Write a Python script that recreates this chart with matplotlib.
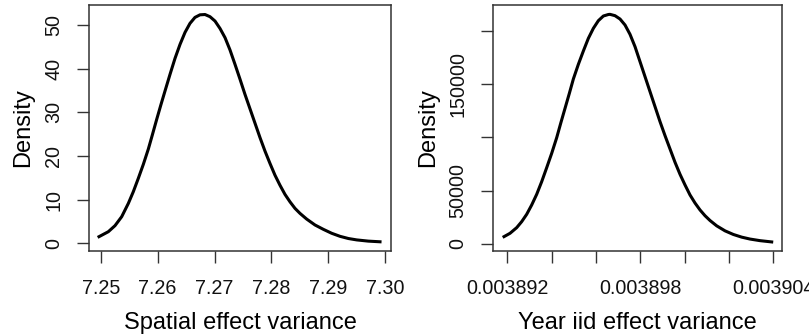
import matplotlib
matplotlib.use('Agg')
import matplotlib.pyplot as plt

plt.rcParams['font.family'] = ['Liberation Sans', 'DejaVu Sans']

# posterior marginal of the spatial effect variance
spatial_x = [7.24970, 7.25134, 7.25251, 7.25369, 7.25486, 7.25573, 7.25661,
             7.25749, 7.25837, 7.25907, 7.25984, 7.26060, 7.26130, 7.26218,
             7.26306, 7.26394, 7.26482, 7.26569, 7.26657, 7.26745, 7.26833,
             7.26921, 7.27009, 7.27097, 7.27185, 7.27272, 7.27360, 7.27448,
             7.27536, 7.27624, 7.27712, 7.27800, 7.27888, 7.27975, 7.28063,
             7.28151, 7.28239, 7.28327, 7.28415, 7.28503, 7.28620, 7.28766,
             7.28913, 7.29059, 7.29206, 7.29352, 7.29499, 7.29703, 7.29909]
spatial_y = [1.52, 2.66, 4.04, 6.10, 9.15, 11.82, 14.88,
             18.08, 21.59, 24.80, 28.39, 31.82, 34.88, 38.69,
             42.36, 45.56, 48.31, 50.37, 51.74, 52.33, 52.40,
             51.90, 50.90, 49.20, 47.10, 44.30, 41.00, 37.60,
             34.10, 30.80, 27.50, 24.20, 21.10, 18.30, 15.60,
             13.30, 11.20, 9.50, 8.00, 6.85, 5.55, 4.20,
             3.20, 2.30, 1.60, 1.10, 0.78, 0.50, 0.35]

# posterior marginal of the year iid effect variance
year_x = [0.0038918510, 0.0038921219, 0.0038924230, 0.0038926488, 0.0038928745,
          0.0038931003, 0.0038933260, 0.0038935517, 0.0038937775, 0.0038940032,
          0.0038942289, 0.0038944095, 0.0038946050, 0.0038948005, 0.0038949811,
          0.0038952068, 0.0038954326, 0.0038956583, 0.0038958841, 0.0038961098,
          0.0038963356, 0.0038965613, 0.0038966366, 0.0038968623, 0.0038970881,
          0.0038973138, 0.0038975396, 0.0038977653, 0.0038979911, 0.0038982168,
          0.0038984425, 0.0038986683, 0.0038988940, 0.0038991198, 0.0038993455,
          0.0038995713, 0.0038997970, 0.0039000227, 0.0039002485, 0.0039004742,
          0.0039007000, 0.0039009257, 0.0039011515, 0.0039014525, 0.0039018287,
          0.0039022049, 0.0039025811, 0.0039029574, 0.0039034088, 0.0039039356]
year_y = [6876, 10009, 15319, 20947, 27833,
          36585, 46594, 58471, 71604, 85055,
          99745, 113197, 127268, 141339, 154783,
          168544, 181049, 192933, 202314, 209500,
          213882, 215300, 215445, 214194, 211068,
          205440, 196685, 185116, 171043, 156973,
          142901, 128829, 114758, 101624, 89118,
          76613, 65355, 55347, 45966, 38400,
          31900, 26500, 22000, 17000, 12300,
          8900, 6400, 4600, 3100, 1900]

spatial_xticks = [7.25, 7.26, 7.27, 7.28, 7.29, 7.30]
spatial_xlabels = ['7.25', '7.26', '7.27', '7.28', '7.29', '7.30']
spatial_yticks = [0, 10, 20, 30, 40, 50]
spatial_ylabels = ['0', '10', '20', '30', '40', '50']

year_xticks = [0.003892, 0.003894, 0.003896, 0.003898, 0.003900, 0.003902, 0.003904]
year_xlabels = ['0.003892', '', '', '0.003898', '', '', '0.003904']
year_yticks = [0, 50000, 100000, 150000, 200000]
year_ylabels = ['0', '50000', '', '150000', '']

BOX = '#333333'


def style_axes(ax):
    for s in ax.spines.values():
        s.set_color(BOX)
        s.set_linewidth(1.1)
    ax.tick_params(axis='both', direction='out', length=8.5, width=1.0,
                   color=BOX, labelsize=14.2, labelcolor='#111111')
    ax.tick_params(axis='x', pad=12)
    ax.tick_params(axis='y', pad=10)
    for lab in ax.get_yticklabels():
        lab.set_rotation(90)
        lab.set_va('center')


def density_panel(ax, x, y, xlabel, xticks, xlabels, yticks, ylabels, xlim, ylim):
    ax.plot(x, y, color='black', linewidth=2.2, solid_joinstyle='round')
    ax.set_xlim(*xlim)
    ax.set_ylim(*ylim)
    ax.set_xticks(xticks)
    ax.set_xticklabels(xlabels)
    ax.set_yticks(yticks)
    ax.set_yticklabels(ylabels)
    ax.set_xlabel(xlabel, fontsize=17, labelpad=10)
    ax.set_ylabel('Density', fontsize=17, labelpad=7)
    style_axes(ax)


fig = plt.figure(figsize=(8.09, 3.36), dpi=100)
ax1 = fig.add_axes([0.110, 0.253, 0.3733, 0.732])
ax2 = fig.add_axes([0.6098, 0.254, 0.3565, 0.731])

density_panel(ax1, spatial_x, spatial_y, 'Spatial effect variance',
              spatial_xticks, spatial_xlabels, spatial_yticks, spatial_ylabels,
              (7.24794, 7.30102), (-1.76, 54.57))
density_panel(ax2, year_x, year_y, 'Year iid effect variance',
              year_xticks, year_xlabels, year_yticks, year_ylabels,
              (0.003891368, 0.003904389), (-6285, 224180))

fig.savefig('out.png', dpi=100)
